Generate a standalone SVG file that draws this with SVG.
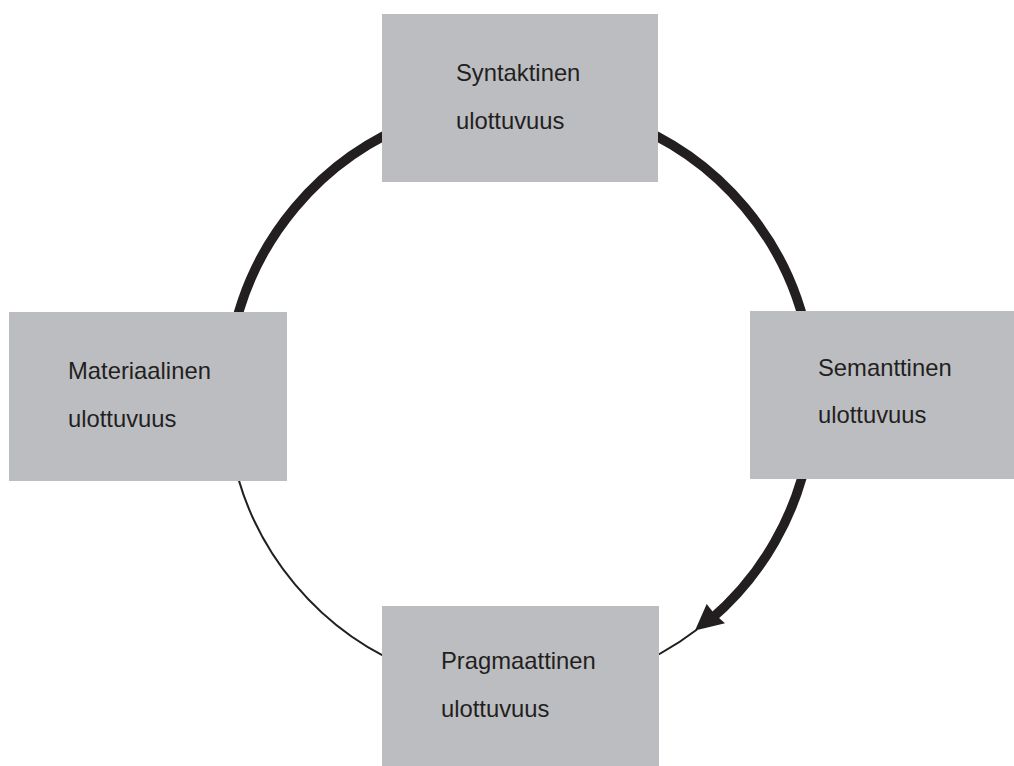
<svg xmlns="http://www.w3.org/2000/svg" width="1014" height="766" viewBox="0 0 1014 766">
<style>
.box{fill:#bcbdc1}
.lbl{font-family:"Liberation Sans",Arial,sans-serif;font-size:23.8px;fill:#231f20}
.thick{fill:none;stroke:#231f20;stroke-width:9.5}
.thin{fill:none;stroke:#231f20;stroke-width:2}
</style>
<rect width="1014" height="766" fill="#ffffff"/>
<g id="connectors">
<path class="thick" d="M231,345 A293.5,293.5 0 0 1 419.6,120.2"/>
<path class="thick" d="M620.4,120.2 A293.5,293.5 0 0 1 809,345"/>
<path class="thick" d="M809,447 A293.5,293.5 0 0 1 710,620"/>
<polygon points="695,630.5 706.7,604 714.5,614 725,623.3" fill="#231f20"/>
<path class="thin" d="M697,629.5 A293.5,293.5 0 0 1 620.4,671.8"/>
<path class="thin" d="M419.6,671.8 A293.5,293.5 0 0 1 231,447"/>
</g>
<g id="syntaktinen">
<rect class="box" x="382" y="14" width="276" height="168"/>
<text class="lbl" x="456" y="81">Syntaktinen</text>
<text class="lbl" x="456" y="129">ulottuvuus</text>
</g>
<g id="materiaalinen">
<rect class="box" x="9" y="312" width="278" height="169"/>
<text class="lbl" x="68" y="379">Materiaalinen</text>
<text class="lbl" x="68" y="427">ulottuvuus</text>
</g>
<g id="semanttinen">
<rect class="box" x="750" y="311" width="264" height="168"/>
<text class="lbl" x="818" y="376">Semanttinen</text>
<text class="lbl" x="818" y="423">ulottuvuus</text>
</g>
<g id="pragmaattinen">
<rect class="box" x="382" y="606" width="277" height="160"/>
<text class="lbl" x="441" y="669">Pragmaattinen</text>
<text class="lbl" x="441" y="717">ulottuvuus</text>
</g>
</svg>
